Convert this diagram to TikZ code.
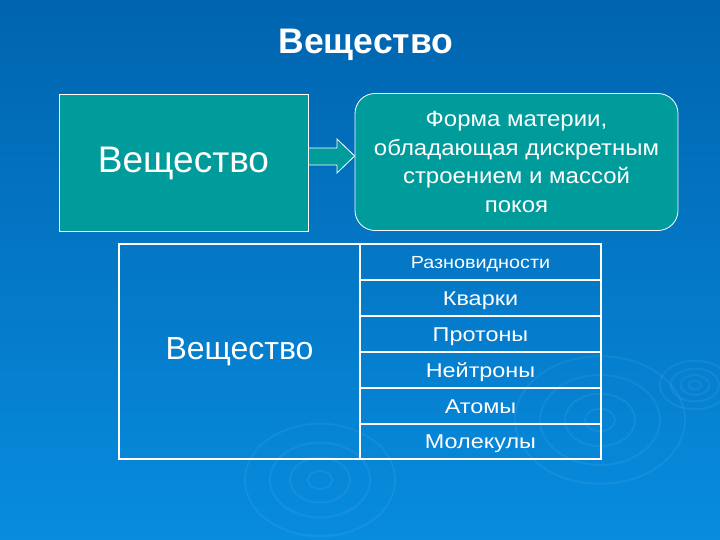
\documentclass[tikz,border=0pt]{standalone}
\usepackage{fontspec}
\setmainfont{Liberation Sans}
\newfontfamily\widefont[FakeStretch=1.17]{Liberation Sans}
\newfontfamily\headfont[FakeStretch=1.13]{Liberation Sans}
\newfontfamily\midfont[FakeStretch=1.09]{Liberation Sans}
\definecolor{bgtop}{RGB}{0,100,175}
\definecolor{bgbot}{RGB}{8,140,222}
\definecolor{tealbox}{RGB}{0,155,155}
\tikzset{
  tealrect/.style={draw=white, line width=0.8pt, fill=tealbox, text=white, inner sep=0pt},
  cellbox/.style={draw=white, line width=1.6pt, text=white, inner sep=0pt, minimum width=241pt, minimum height=36pt, text height=14.3pt, text depth=0pt},
  rowfont/.style={font=\widefont\fontsize{20}{24}\selectfont},
  ripple/.style={draw=white, opacity=0.06, line width=2pt}
}
\begin{document}
\begin{tikzpicture}[x=1pt,y=-1pt]
\shade[top color=bgtop, bottom color=bgbot] (0,0) rectangle (720,540);
\useasboundingbox (0,0) rectangle (720,540);
% faint ripples
\foreach \r in {8,18,30,44} {
  \draw[ripple] (695,385) ellipse ({\r*0.8} and {\r*0.55});
}
\foreach \r in {15,35,60,85} {
  \draw[ripple] (600,420) ellipse ({\r} and {\r*0.75});
}
\foreach \r in {12,30,50,75} {
  \draw[ripple] (320,480) ellipse ({\r} and {\r*0.75});
}
% title
\node[text=white, font=\bfseries\fontsize{35.5}{40}\selectfont] (title) at (366,45) {Вещество};
% top boxes
\node[tealrect, minimum width=249pt, minimum height=137pt, font=\fontsize{37}{42}\selectfont, text height=26.6pt, text depth=7pt] (vesh) at (183.5,162.5) {Вещество};
\node[tealrect, rounded corners=20pt, minimum width=323pt, minimum height=137pt, align=center, font=\midfont\fontsize{22}{28.5}\selectfont] (def) at (516.5,162) {Форма материи,\\обладающая дискретным\\строением и массой\\покоя};
% block arrow between the boxes
\draw[draw=white, line width=0.8pt, fill=tealbox]
  (vesh.east |- 0,148) -- (337,148) -- (337,139) -- (def.west |- 0,156)
  -- (337,173) -- (337,165) -- (vesh.east |- 0,165) -- cycle;
% table
\node[draw=white, line width=1.6pt, minimum width=241pt, minimum height=215pt, text=white, font=\fontsize{32}{38}\selectfont, inner sep=0pt] (left) at (239.5,351.5) {Вещество};
\node[cellbox, text height=12.5pt, font=\headfont\fontsize{17.5}{22}\selectfont] (h) at (480.5,262) {Разновидности};
\node[cellbox, rowfont] (r1) at (480.5,298) {Кварки};
\node[cellbox, rowfont] (r2) at (480.5,334) {Протоны};
\node[cellbox, rowfont] (r3) at (480.5,370) {Нейтроны};
\node[cellbox, rowfont] (r4) at (480.5,406) {Атомы};
\node[cellbox, rowfont, minimum height=35pt] (r5) at (480.5,441.5) {Молекулы};
\end{tikzpicture}
\end{document}
